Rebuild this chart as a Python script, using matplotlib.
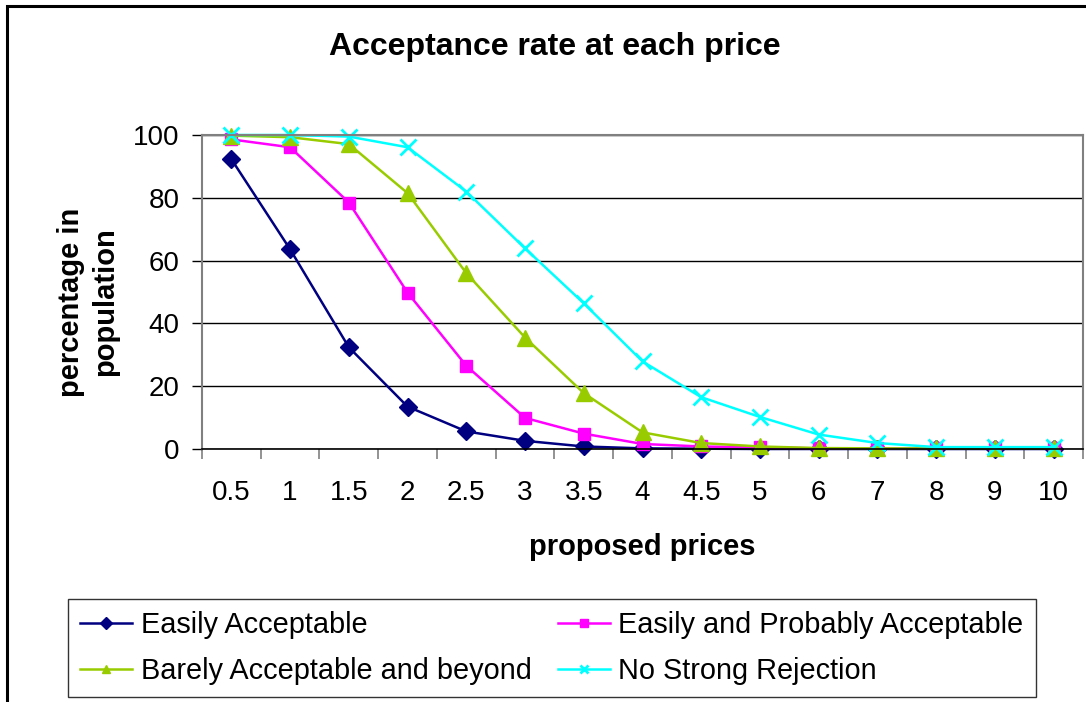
import matplotlib
matplotlib.use("Agg")
import matplotlib.pyplot as plt
from matplotlib.patches import Rectangle

plt.rcParams["font.family"] = ["Liberation Sans", "DejaVu Sans"]

# data
prices = ["0.5", "1", "1.5", "2", "2.5", "3", "3.5", "4", "4.5", "5", "6", "7", "8", "9", "10"]
easily = [92.3, 63.6, 32.4, 13.5, 5.6, 2.6, 0.8, 0.2, 0.1, 0.0, 0.0, 0.0, 0.0, 0.0, 0.0]
easily_probably = [98.6, 96.1, 78.5, 49.8, 26.5, 9.9, 4.9, 1.6, 0.8, 0.5, 0.2, 0.2, 0.3, 0.3, 0.3]
barely = [99.8, 99.3, 97.1, 81.5, 56.0, 35.5, 17.8, 5.3, 1.9, 0.8, 0.3, 0.2, 0.2, 0.2, 0.2]
no_rejection = [100.0, 100.0, 99.5, 96.1, 82.0, 63.9, 46.4, 27.9, 16.5, 10.2, 4.6, 1.9, 0.6, 0.6, 0.6]

series = [
    ("Easily Acceptable", easily, "#000080", "D", 9.5),
    ("Easily and Probably Acceptable", easily_probably, "#FF00FF", "s", 9),
    ("Barely Acceptable and beyond", barely, "#99CC00", "^", 11),
    ("No Strong Rejection", no_rejection, "#00FFFF", "x", 11),
]

fig = plt.figure(figsize=(10.86, 7.02), dpi=100)
ax = fig.add_axes([202 / 1086, 1 - 449 / 702, 881 / 1086, 314 / 702])

x = list(range(len(prices)))
handles = []
for name, vals, color, marker, ms in series:
    line, = ax.plot(x, vals, color=color, lw=1.8, marker=marker, markersize=ms,
                    markeredgewidth=2.0 if marker == "x" else 1.0, label=name, clip_on=False)
    handles.append(line)

ax.set_xlim(-0.5, len(prices) - 0.5)
ax.set_ylim(0, 100)
ax.set_yticks(range(0, 101, 20))
ax.set_xticks(x)
ax.set_xticklabels(prices)
ax.set_xticks([i - 0.5 for i in range(len(prices) + 1)], minor=True)
ax.tick_params(axis="x", which="major", length=0, pad=22, labelsize=20)
ax.tick_params(axis="x", which="minor", length=7, width=1.2, color="#808080", direction="out")
ax.tick_params(axis="y", length=7, width=1.0, color="black", pad=9, labelsize=20)
ax.yaxis.grid(True, color="black", lw=1.0)
ax.set_axisbelow(True)

for side in ["top", "right", "left"]:
    ax.spines[side].set_color("#808080")
    ax.spines[side].set_linewidth(1.5)
ax.spines["bottom"].set_color("black")
ax.spines["bottom"].set_linewidth(1.2)

ax.set_xlabel("proposed prices", fontsize=21, fontweight="bold", labelpad=20)
fig.text(88 / 1086, 1 - 302 / 702, "percentage in\npopulation", fontsize=21, fontweight="bold",
         rotation=90, ha="center", va="center", multialignment="center", linespacing=1.25)
fig.text(555 / 1086, 1 - 47 / 702, "Acceptance rate at each price", fontsize=23,
         fontweight="bold", ha="center", va="center")

# row-major legend order like the reference
order = [0, 2, 1, 3]
leg = fig.legend([handles[i] for i in order], [series[i][0] for i in order],
                 loc="upper left", bbox_to_anchor=(68 / 1086, 1 - 599 / 702), ncol=2,
                 fontsize=20.8, frameon=True, fancybox=False, edgecolor="black",
                 handlelength=1.8, handletextpad=0.3, columnspacing=0.9,
                 labelspacing=0.62, borderpad=0.42, borderaxespad=0)
leg.get_frame().set_linewidth(1.0)
for h in leg.legend_handles:
    h.set_markersize(6)

# outer chart border (cut off on the right and bottom)
fig.patches.append(Rectangle((7 / 1086, -0.1), 1.2, 1.1 - 6 / 702, transform=fig.transFigure,
                             fill=False, edgecolor="black", lw=2.2, figure=fig))

fig.savefig("out.png", dpi=100)
